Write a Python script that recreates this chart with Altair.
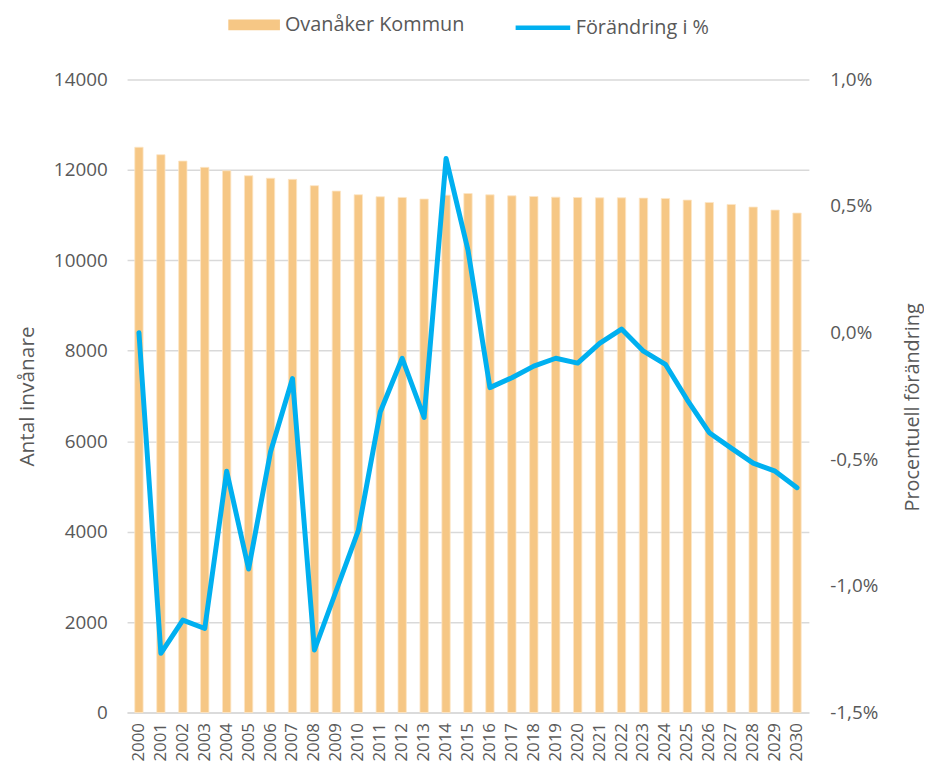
import altair as alt
import pandas as pd

years = [str(y) for y in range(2000, 2031)]
population = [12500, 12335, 12195, 12055, 11980, 11870, 11815, 11790, 11650, 11530,
              11450, 11405, 11390, 11355, 11440, 11477, 11448, 11426, 11411, 11396,
              11389, 11382, 11382, 11375, 11367, 11331, 11279, 11235, 11177, 11111, 11045]
change_pct = [0.0, -1.266, -1.135, -1.168, -0.547, -0.933, -0.47, -0.181, -1.253, -1.017,
              -0.782, -0.313, -0.101, -0.335, 0.688, 0.326, -0.217, -0.178, -0.132, -0.101,
              -0.120, -0.042, 0.014, -0.073, -0.125, -0.266, -0.395, -0.456, -0.515, -0.547, -0.612]
left_ticks = [0, 2000, 4000, 6000, 8000, 10000, 12000, 14000]
right_ticks = [-1.5, -1.0, -0.5, 0.0, 0.5, 1.0]
bar_name = "Ovanåker Kommun"
line_name = "Förändring i %"

BAR = "#F6C785"
LINE = "#00B0F0"
TXT = "#595959"
GRID = "#D9D9D9"
FONT = "Open Sans"

df = pd.DataFrame({"year": years, "pop": population, "chg": change_pct,
                   "s1": bar_name, "s2": line_name})

x_enc = alt.X("year:O", title=None,
              scale=alt.Scale(paddingInner=0.62, paddingOuter=0.35),
              axis=alt.Axis(labelAngle=270, labelFontSize=17, labelColor=TXT, labelFont=FONT,
                            labelPadding=10, ticks=False, domainColor=GRID, domainWidth=1.5,
                            grid=False))

bars = alt.Chart(df).mark_bar(stroke="#FCE6C6", strokeWidth=0.8).encode(
    x=x_enc,
    y=alt.Y("pop:Q", scale=alt.Scale(domain=[0, 14000], nice=False),
            axis=alt.Axis(values=left_ticks, title="Antal invånare", orient="left", format="d",
                          grid=True, gridColor=GRID, gridWidth=1.5, domain=False, ticks=False,
                          labelPadding=20, labelFontSize=19, labelColor=TXT, labelFont=FONT,
                          titleFont=FONT, titleFontSize=21, titleColor=TXT,
                          titleFontWeight="normal", titlePadding=16)),
    color=alt.Color("s1:N", title=None,
                    scale=alt.Scale(domain=[bar_name], range=[BAR]),
                    legend=alt.Legend(orient="none", legendX=102, legendY=-81,
                                      direction="horizontal", labelLimit=0,
                                      symbolType="M-1,-0.21H1V0.21H-1Z", symbolSize=2704,
                                      symbolStrokeWidth=0, labelFontSize=20, labelFont=FONT,
                                      labelColor=TXT, labelOffset=5)),
)

line = alt.Chart(df).mark_line(strokeWidth=5, strokeJoin="round", strokeCap="round").encode(
    x=x_enc,
    y=alt.Y("chg:Q", scale=alt.Scale(domain=[-1.5, 1.0], nice=False, zero=False),
            axis=alt.Axis(values=right_ticks, orient="right", title="Procentuell förändring",
                          labelExpr="(datum.value < 0 ? '-' : '') + replace(format(abs(datum.value), '.1f'), '.', ',') + '%'",
                          grid=False, domain=False, ticks=False, labelPadding=21,
                          labelFontSize=19, labelColor=TXT, labelFont=FONT,
                          titleFont=FONT, titleFontSize=20, titleColor=TXT,
                          titleFontWeight="normal", titleAngle=270, titlePadding=45,
                          titleY=330)),
    stroke=alt.Stroke("s2:N", title=None,
                      scale=alt.Scale(domain=[line_name], range=[LINE]),
                      legend=alt.Legend(orient="none", legendX=389, legendY=-82,
                                        direction="horizontal", symbolType="stroke",
                                        labelLimit=0,
                                        symbolSize=3025, symbolStrokeWidth=4.5,
                                        labelFontSize=20, labelFont=FONT,
                                        labelColor=TXT, labelOffset=3)),
)

chart = alt.layer(bars, line).resolve_scale(y="independent").properties(
    width=687, height=638,
    autosize=alt.AutoSizeParams(type="none"),
    padding={"left": 120, "top": 69, "right": 116, "bottom": 64},
).configure_view(stroke=None)

chart.save("out.html", embed_options={"renderer": "svg", "actions": False})
